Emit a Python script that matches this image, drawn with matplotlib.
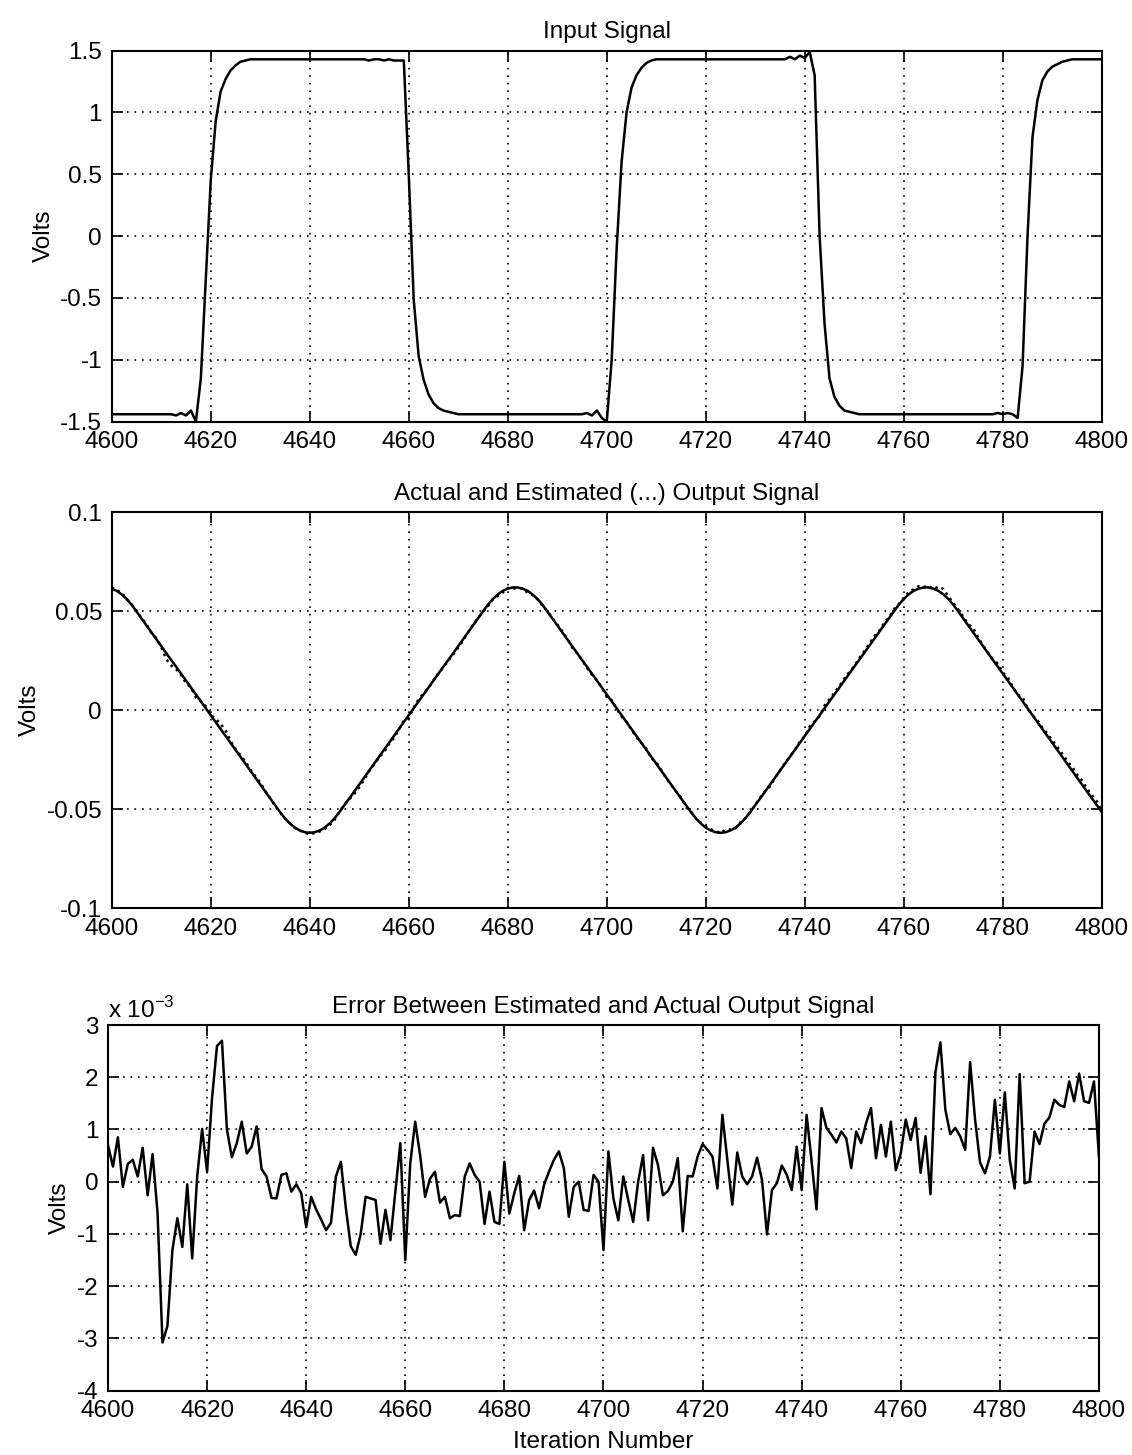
import matplotlib.pyplot as plt

plt.rcParams['font.family'] = ['Liberation Sans', 'DejaVu Sans']
plt.rcParams['axes.unicode_minus'] = False

iterations = list(range(4600, 4801))

# input signal, volts (one sample per iteration)
input_volts = [
    -1.44, -1.44, -1.44, -1.44, -1.44, -1.44, -1.44, -1.44, -1.44, -1.44,
    -1.44, -1.44, -1.44, -1.45, -1.43, -1.45, -1.41, -1.50, -1.15, -0.35,
    0.45, 0.93, 1.17, 1.27, 1.34, 1.38, 1.41, 1.42, 1.43, 1.43,
    1.43, 1.43, 1.43, 1.43, 1.43, 1.43, 1.43, 1.43, 1.43, 1.43,
    1.43, 1.43, 1.43, 1.43, 1.43, 1.43, 1.43, 1.43, 1.43, 1.43,
    1.43, 1.43, 1.42, 1.43, 1.43, 1.42, 1.43, 1.42, 1.42, 1.42,
    0.50, -0.51, -0.97, -1.16, -1.28, -1.35, -1.39, -1.41, -1.42, -1.43,
    -1.44, -1.44, -1.44, -1.44, -1.44, -1.44, -1.44, -1.44, -1.44, -1.44,
    -1.44, -1.44, -1.44, -1.44, -1.44, -1.44, -1.44, -1.44, -1.44, -1.44,
    -1.44, -1.44, -1.44, -1.44, -1.44, -1.44, -1.43, -1.45, -1.41, -1.47,
    -1.50, -1.00, -0.10, 0.60, 1.00, 1.20, 1.30, 1.36, 1.40, 1.42,
    1.43, 1.43, 1.43, 1.43, 1.43, 1.43, 1.43, 1.43, 1.43, 1.43,
    1.43, 1.43, 1.43, 1.43, 1.43, 1.43, 1.43, 1.43, 1.43, 1.43,
    1.43, 1.43, 1.43, 1.43, 1.43, 1.43, 1.43, 1.45, 1.43, 1.46,
    1.44, 1.49, 1.30, 0.00, -0.71, -1.15, -1.30, -1.37, -1.41, -1.42,
    -1.43, -1.44, -1.44, -1.44, -1.44, -1.44, -1.44, -1.44, -1.44, -1.44,
    -1.44, -1.44, -1.44, -1.44, -1.44, -1.44, -1.44, -1.44, -1.44, -1.44,
    -1.44, -1.44, -1.44, -1.44, -1.44, -1.44, -1.44, -1.44, -1.44, -1.43,
    -1.44, -1.43, -1.44, -1.47, -1.05, 0.00, 0.80, 1.10, 1.26, 1.33,
    1.37, 1.39, 1.41, 1.42, 1.43, 1.43, 1.43, 1.43, 1.43, 1.43,
    1.43,
]

# actual output signal, volts
output_actual = [
    0.0613, 0.0602, 0.0584, 0.0561, 0.0532, 0.0498, 0.0463, 0.0428, 0.0393, 0.0358,
    0.0323, 0.0288, 0.0253, 0.0219, 0.0184, 0.0149, 0.0114, 0.0079, 0.0044, 0.0009,
    -0.0026, -0.0061, -0.0096, -0.0131, -0.0166, -0.0201, -0.0236, -0.0271, -0.0306, -0.0341,
    -0.0376, -0.0411, -0.0446, -0.0480, -0.0515, -0.0547, -0.0573, -0.0594, -0.0608, -0.0617,
    -0.0620, -0.0617, -0.0608, -0.0594, -0.0573, -0.0547, -0.0515, -0.0480, -0.0446, -0.0411,
    -0.0376, -0.0341, -0.0306, -0.0271, -0.0236, -0.0201, -0.0166, -0.0131, -0.0096, -0.0061,
    -0.0026, 0.0009, 0.0044, 0.0079, 0.0114, 0.0149, 0.0184, 0.0219, 0.0253, 0.0288,
    0.0323, 0.0358, 0.0393, 0.0428, 0.0463, 0.0498, 0.0532, 0.0561, 0.0584, 0.0602,
    0.0613, 0.0619, 0.0619, 0.0613, 0.0602, 0.0584, 0.0561, 0.0532, 0.0498, 0.0463,
    0.0428, 0.0393, 0.0358, 0.0323, 0.0288, 0.0253, 0.0219, 0.0184, 0.0149, 0.0114,
    0.0079, 0.0044, 0.0009, -0.0026, -0.0061, -0.0096, -0.0131, -0.0166, -0.0201, -0.0236,
    -0.0271, -0.0306, -0.0341, -0.0376, -0.0411, -0.0446, -0.0480, -0.0515, -0.0547, -0.0573,
    -0.0594, -0.0608, -0.0617, -0.0620, -0.0617, -0.0608, -0.0594, -0.0573, -0.0547, -0.0515,
    -0.0480, -0.0446, -0.0411, -0.0376, -0.0341, -0.0306, -0.0271, -0.0236, -0.0201, -0.0166,
    -0.0131, -0.0096, -0.0061, -0.0026, 0.0009, 0.0044, 0.0079, 0.0114, 0.0149, 0.0184,
    0.0219, 0.0253, 0.0288, 0.0323, 0.0358, 0.0393, 0.0428, 0.0463, 0.0498, 0.0532,
    0.0561, 0.0584, 0.0602, 0.0613, 0.0619, 0.0619, 0.0613, 0.0602, 0.0584, 0.0561,
    0.0532, 0.0498, 0.0463, 0.0428, 0.0393, 0.0358, 0.0323, 0.0288, 0.0253, 0.0219,
    0.0184, 0.0149, 0.0114, 0.0079, 0.0044, 0.0009, -0.0026, -0.0061, -0.0096, -0.0131,
    -0.0166, -0.0201, -0.0236, -0.0271, -0.0306, -0.0341, -0.0376, -0.0411, -0.0446, -0.0480,
    -0.0515,
]

# error between estimated and actual output, in units of 1e-3 volts
error_mv = [
    0.70, 0.29, 0.85, -0.10, 0.34, 0.42, 0.10, 0.65, -0.26, 0.53,
    -0.60, -3.08, -2.76, -1.31, -0.70, -1.25, -0.05, -1.47, 0.10, 1.01,
    0.19, 1.60, 2.60, 2.70, 1.00, 0.47, 0.74, 1.15, 0.54, 0.67,
    1.06, 0.24, 0.10, -0.31, -0.32, 0.13, 0.16, -0.19, -0.05, -0.22,
    -0.87, -0.29, -0.53, -0.72, -0.93, -0.79, 0.10, 0.38, -0.50, -1.24,
    -1.40, -1.00, -0.29, -0.32, -0.35, -1.19, -0.54, -1.12, -0.20, 0.74,
    -1.50, 0.35, 1.15, 0.50, -0.29, 0.06, 0.19, -0.40, -0.29, -0.70,
    -0.64, -0.66, 0.10, 0.35, 0.13, 0.00, -0.81, -0.19, -0.77, -0.81,
    0.38, -0.61, -0.22, 0.11, -0.93, -0.35, -0.17, -0.51, -0.06, 0.19,
    0.42, 0.58, 0.26, -0.67, -0.10, 0.00, -0.54, -0.56, 0.13, 0.00,
    -1.31, 0.58, -0.32, -0.74, 0.10, -0.35, -0.77, 0.00, 0.51, -0.74,
    0.65, 0.32, -0.26, -0.18, 0.00, 0.45, -0.95, 0.11, 0.10, 0.48,
    0.72, 0.61, 0.48, -0.13, 1.28, 0.42, -0.44, 0.56, 0.10, -0.05,
    0.10, 0.46, 0.03, -1.01, -0.16, -0.03, 0.31, 0.13, -0.16, 0.67,
    -0.16, 1.28, 0.40, -0.53, 1.41, 1.03, 0.90, 0.75, 0.96, 0.83,
    0.26, 0.96, 0.74, 1.12, 1.41, 0.45, 1.09, 0.48, 1.15, 0.22,
    0.54, 1.19, 0.80, 1.22, 0.17, 0.87, -0.24, 2.10, 2.67, 1.38,
    0.91, 1.03, 0.87, 0.61, 2.29, 1.19, 0.37, 0.16, 0.48, 1.57,
    0.54, 1.71, 0.42, -0.13, 2.06, -0.03, 0.00, 0.96, 0.72, 1.11,
    1.23, 1.57, 1.47, 1.43, 1.92, 1.54, 2.07, 1.54, 1.51, 1.92,
    0.48,
]

output_estimated = [a + e * 1e-3 for a, e in zip(output_actual, error_mv)]

fig = plt.figure(figsize=(11.32, 14.55), dpi=100)

FS = 17.5


def style(ax, ymin, ymax, yticks, ylabels):
    ax.set_xlim(4600, 4800)
    ax.set_xticks(range(4600, 4801, 20))
    ax.set_ylim(ymin, ymax)
    ax.set_yticks(yticks)
    ax.set_yticklabels(ylabels)
    ax.grid(True, color='black', linestyle=(0, (1, 3.5)), linewidth=1.2)
    ax.tick_params(direction='in', top=True, right=True, length=8, width=1.2,
                   labelsize=FS)
    ax.tick_params(axis='x', pad=7)
    ax.tick_params(axis='y', pad=7)
    for s in ax.spines.values():
        s.set_linewidth(1.5)
    ax.set_ylabel('Volts', fontsize=FS)


# top: input signal
ax1 = fig.add_axes([0.0987, 0.7102, 0.8746, 0.2550])
ax1.plot(iterations, input_volts, color='black', linewidth=1.8)
style(ax1, -1.5, 1.5, [-1.5, -1, -0.5, 0, 0.5, 1, 1.5],
      ['-1.5', '-1', '-0.5', '0', '0.5', '1', '1.5'])
ax1.set_title('Input Signal', fontsize=FS, pad=9)

# middle: actual and estimated output
ax2 = fig.add_axes([0.0987, 0.3759, 0.8746, 0.2722])
ax2.plot(iterations, output_actual, color='black', linewidth=1.8)
ax2.plot(iterations, output_estimated, color='black', linewidth=1.8, linestyle=':')
style(ax2, -0.1, 0.1, [-0.1, -0.05, 0, 0.05, 0.1],
      ['-0.1', '-0.05', '0', '0.05', '0.1'])
ax2.set_title('Actual and Estimated (...) Output Signal', fontsize=FS, pad=9)

# bottom: error
ax3 = fig.add_axes([0.0954, 0.0443, 0.8754, 0.2512])
ax3.plot(iterations, error_mv, color='black', linewidth=1.8)
style(ax3, -4, 3, [-4, -3, -2, -1, 0, 1, 2, 3],
      ['-4', '-3', '-2', '-1', '0', '1', '2', '3'])
ax3.set_title('Error Between Estimated and Actual Output Signal', fontsize=FS, pad=9)
ax3.text(0.0, 1.005, r'x 10$^{\mathregular{-3}}$', transform=ax3.transAxes,
         fontsize=FS, ha='left', va='bottom')
ax3.set_xlabel('Iteration Number', fontsize=FS, labelpad=6)

fig.savefig('out.png', dpi=100)
